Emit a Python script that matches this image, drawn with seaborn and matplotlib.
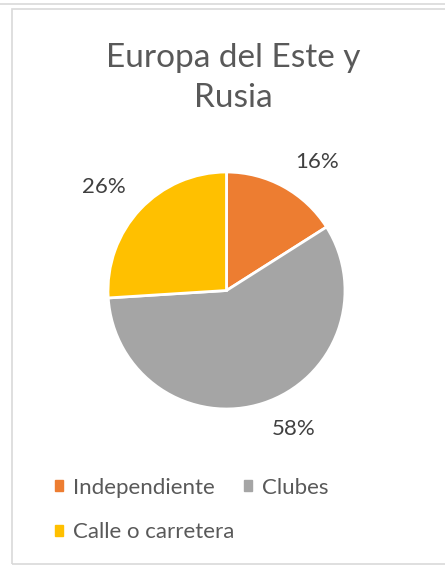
import matplotlib
matplotlib.use("Agg")
import matplotlib.pyplot as plt
import seaborn as sns
from matplotlib.patches import Rectangle
from matplotlib.lines import Line2D

categories = ["Independiente", "Clubes", "Calle o carretera"]
shares = [16, 58, 26]
colors = ["#ED7D31", "#A5A5A5", "#FFC000"]
title_lines = ["Europa del Este y", "Rusia"]

sns.set_theme(style="white")
plt.rcParams["font.family"] = ["Lato", "DejaVu Sans"]

W, H = 445, 566
fig = plt.figure(figsize=(W / 100, H / 100), dpi=100)

# chart frame like the Excel export
fig.patches.append(Rectangle((12 / W, 1 - 564 / H), 1.0, 555 / H,
                             transform=fig.transFigure, fill=False,
                             edgecolor="#D9D9D9", linewidth=1.2))
fig.lines.append(Line2D([0, 1], [1 - 3.5 / H, 1 - 3.5 / H],
                        transform=fig.transFigure, color="#D9D9D9", linewidth=1.2))

ax = fig.add_axes([108 / W, 1 - 409 / H, 237 / W, 237 / H])
wedges, texts, autotexts = ax.pie(
    shares, colors=colors, startangle=90, counterclock=False,
    autopct=lambda p: f"{p:.0f}%", pctdistance=1.2,
    wedgeprops=dict(edgecolor="white", linewidth=2),
    textprops=dict(color="#404040", fontsize=16))
ax.set_xlim(-1, 1)
ax.set_ylim(-1, 1)
ax.set_aspect("equal")
ax.axis("off")

# Excel-like label placement
label_pos = [(0.764, 1.084), (0.570, -1.169), (-1.034, 0.873)]
for t, pos in zip(autotexts, label_pos):
    t.set_position(pos)
    t.set_ha("center")
    t.set_va("center")

for line, base in zip(title_lines, [67, 107]):
    fig.text(233.5 / W, 1 - base / H, line, ha="center", va="baseline",
             fontsize=24, color="#595959")

order = [0, 2, 1]
handles = [Rectangle((0, 0), 1, 1, color=colors[i]) for i in order]
labels = [categories[i] for i in order]
fig.legend(handles, labels, ncol=2, loc="upper left",
           bbox_to_anchor=(37 / W, 1 - 460 / H), frameon=False,
           fontsize=16, handlelength=0.36, handleheight=0.36,
           handletextpad=0.45, columnspacing=0.45, labelspacing=1.1,
           borderpad=0.3, labelcolor="#595959")

fig.savefig("out.png", dpi=100, facecolor="white")
